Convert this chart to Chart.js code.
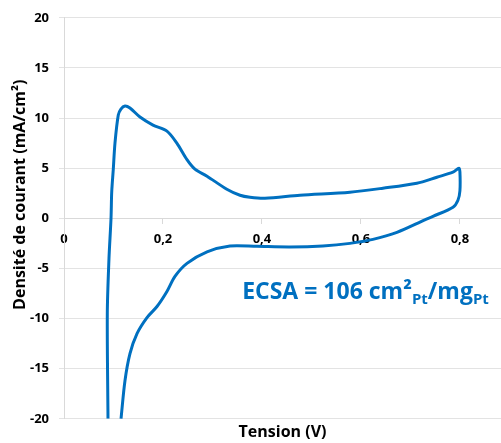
<!DOCTYPE html>
<html lang="fr">
<head>
<meta charset="UTF-8">
<title>Voltampérométrie cyclique</title>
<script src="https://cdn.jsdelivr.net/npm/chart.js"></script>
<style>
  body { margin: 0; background: #fff; overflow: hidden; }
  .wrap { width: 501px; height: 443px; position: relative; }
</style>
</head>
<body>
<div class="wrap"><canvas id="cv"></canvas></div>
<script>
// cycle: anodic sweep then cathodic return
const tension = [
  0.0889, 0.0875, 0.0909, 0.095, 0.0964, 0.0996, 0.103, 0.1097, 0.115, 0.1232,
  0.1333, 0.1535, 0.1798, 0.208, 0.228, 0.2485, 0.2646, 0.289, 0.329, 0.3556,
  0.3758, 0.406, 0.4768, 0.5778, 0.6444, 0.713, 0.7535, 0.7859, 0.798, 0.800,
  0.800, 0.796, 0.786,
  0.7455, 0.729, 0.6727, 0.6242, 0.5778, 0.523, 0.4566, 0.39, 0.3354, 0.289,
  0.2485, 0.2242, 0.208, 0.1879, 0.1677, 0.1475, 0.1333, 0.1232, 0.1152
];
const courant = [
  -20, -9.5, -4, 0, 2.6, 4.9, 7.5, 10.3, 10.9, 11.2,
  11.0, 10.1, 9.3, 8.7, 7.5, 5.85, 4.9, 4.2, 2.9, 2.3,
  2.1, 2.0, 2.3, 2.6, 3.0, 3.5, 4.1, 4.6, 5.0, 4.6,
  2.75, 1.8, 1.1,
  0.2, -0.15, -1.4, -2.1, -2.5, -2.76, -2.86, -2.8, -2.76, -3.35,
  -4.5, -5.8, -7.3, -8.8, -9.9, -11.5, -13.5, -16.2, -20
];
const xTicks = [0, 0.2, 0.4, 0.6, 0.8];
const yTicks = [-20, -15, -10, -5, 0, 5, 10, 15, 20];

const FONT = "'Open Sans', 'Liberation Sans', sans-serif";
const BLUE = '#0070C0';

// ECSA label with subscripts + y title (sits a bit above the axis centre)
const extraText = {
  id: 'extraText',
  afterDraw(chart) {
    const c = chart.ctx;
    const x0 = chart.scales.x.getPixelForValue(0.36);
    const y0 = chart.scales.y.getPixelForValue(-8.0);
    const parts = [
      ['ECSA = 106 cm²', 23, 0],
      ['Pt', 15, 5],
      ['/mg', 23, 0],
      ['Pt', 15, 5]
    ];
    c.save();
    c.fillStyle = BLUE;
    c.textBaseline = 'alphabetic';
    let x = x0;
    parts.forEach(([t, size, dy]) => {
      c.font = 'bold ' + size + 'px ' + FONT;
      c.fillText(t, x, y0 + dy);
      x += c.measureText(t).width;
    });
    c.restore();

    c.save();
    c.translate(20, chart.scales.y.getPixelForValue(2.35));
    c.rotate(-Math.PI / 2);
    c.fillStyle = '#000';
    c.font = 'bold 16px ' + FONT;
    c.textAlign = 'center';
    c.textBaseline = 'middle';
    c.fillText('Densité de courant (mA/cm²)', 0, 0);
    c.restore();
  }
};

new Chart(document.getElementById('cv'), {
  type: 'scatter',
  data: {
    datasets: [{
      data: tension.map((v, i) => ({ x: v, y: courant[i] })),
      showLine: true,
      borderColor: BLUE,
      borderWidth: 3,
      pointRadius: 0,
      tension: 0.3,
      fill: false
    }]
  },
  options: {
    responsive: true,
    maintainAspectRatio: false,
    animation: false,
    layout: { padding: { top: 13, right: 0, left: 0, bottom: 0 } },
    plugins: {
      legend: { display: false },
      tooltip: { enabled: false },
      title: {
        display: true,
        text: 'Tension (V)',
        position: 'bottom',
        fullSize: false,
        color: '#000',
        font: { family: FONT, size: 16, weight: 'bold' },
        padding: { top: 4, bottom: 1 }
      }
    },
    scales: {
      x: {
        type: 'linear',
        position: { y: 0 },
        min: 0,
        max: 0.883,
        afterBuildTicks: s => { s.ticks = xTicks.map(v => ({ value: v })); },
        ticks: {
          color: '#000',
          padding: 8,
          font: { family: FONT, size: 13, weight: 'bold' },
          callback: v => String(v).replace('.', ',')
        },
        grid: { drawOnChartArea: false, tickLength: 5, color: '#d9d9d9' },
        border: { color: '#d9d9d9' }
      },
      y: {
        min: -20,
        max: 20,
        afterBuildTicks: s => { s.ticks = yTicks.map(v => ({ value: v })); },
        afterFit: s => { s.width = 64; },
        ticks: {
          color: '#000',
          padding: 10,
          font: { family: FONT, size: 13, weight: 'bold' }
        },
        grid: { color: '#e3e3e3', tickLength: 5 },
        border: { color: '#d9d9d9' }
      }
    }
  },
  plugins: [extraText]
});
</script>
</body>
</html>
